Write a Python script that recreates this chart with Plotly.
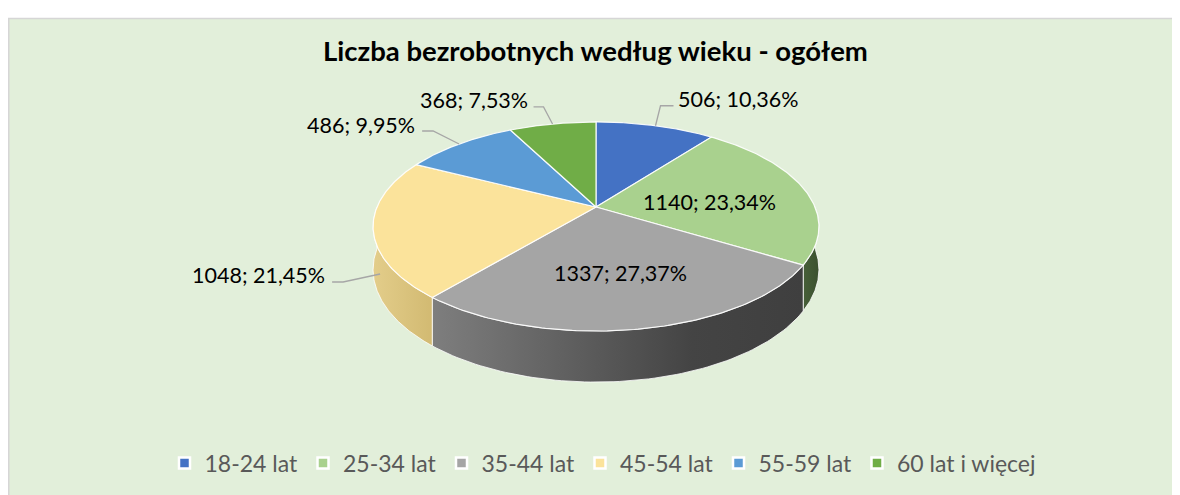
import numpy as np
import plotly.graph_objects as go

# ---------------- data ----------------
categories = ["18-24 lat", "25-34 lat", "35-44 lat", "45-54 lat", "55-59 lat", "60 lat i więcej"]
values = [506, 1140, 1337, 1048, 486, 368]
title_text = "Liczba bezrobotnych według wieku - ogółem"

# ---------------- styles ----------------
top_colors = ["#4472C4", "#A9D18E", "#A5A5A5", "#FBE39B", "#5B9BD5", "#70AD47"]
side_scales = [
    [[0, "#2F4F8F"], [1, "#2A4680"]],
    [[0, "#475F39"], [1, "#3B512F"]],
    [[0, "#7E7E7E"], [0.7, "#444444"], [1, "#3F3F3F"]],
    [[0, "#E3CD8A"], [1, "#D2BA72"]],
    [[0, "#43749F"], [1, "#3C6A92"]],
    [[0, "#52803A"], [1, "#4A7434"]],
]
# page geometry (body has an 8px margin; axes are set so data units = page pixels)
PAGE_W, PAGE_H, BODY_M = 1180, 495, 8
# projection of the tilted pie (pixel space)
CX, CY = 596.0, 207.0
A_X, G_Y, K_P, THICK = 219.0, 100.9, 0.1866, 41.5

# label styling: inside labels use radius fraction; outside labels use leader geometry
label_inside = [False, True, True, False, False, False]
inside_r = {1: (0.55, -3, 5), 2: (0.6, 0, -1)}
# anchor offset (dx,dy), elbow offset, horizontal run, text offset, xanchor
outside_style = {
    0: ((0, 0), (5, -20), 13, (2, -7), "left"),
    3: ((7, 46), (-37, 8), -11, (-5, -7), "right"),
    4: ((0, 0), (-26, -13), -11, (-5, -6), "right"),
    5: ((0, 0), (-9, -17), -10, (-4, -7), "right"),
}
FONT = "Lato"
LABEL_SIZE = 21.5
CHART_BG = "#E2EFDA"
BORDER = "#D6D6D6"


def proj(theta_deg, r=1.0, drop=0.0):
    th = np.radians(theta_deg)
    X = r * np.sin(th)
    Y = r * np.cos(th)
    den = 1 + K_P * Y
    x = CX + A_X * X / den
    y = CY - G_Y * Y / den + drop / den
    return x, y


total = sum(values)
cum = np.concatenate([[0], np.cumsum(values)]) / total * 360.0
pct_text = [f"{v / total * 100:.2f}".replace(".", ",") + "%" for v in values]

fig = go.Figure()

# side faces (front half only)
for i in range(len(values)):
    a0, a1 = max(cum[i], 90.0), min(cum[i + 1], 270.0)
    if a1 <= a0:
        continue
    th = np.linspace(a0, a1, 80)
    xt, yt = proj(th)
    xb, yb = proj(th[::-1], drop=THICK)
    xs = np.concatenate([xt, xb, xt[:1]])
    ys = np.concatenate([yt, yb, yt[:1]])
    fig.add_trace(go.Scatter(
        x=xs, y=ys, mode="lines", fill="toself",
        fillgradient=dict(type="horizontal", colorscale=side_scales[i]),
        line=dict(color="rgba(255,255,255,0.8)", width=1),
        hoverinfo="skip", showlegend=False))

# top faces
for i in range(len(values)):
    th = np.linspace(cum[i], cum[i + 1], 120)
    xa, ya = proj(th)
    xs = np.concatenate([[CX], xa, [CX]])
    ys = np.concatenate([[CY], ya, [CY]])
    fig.add_trace(go.Scatter(
        x=xs, y=ys, mode="lines", fill="toself", fillcolor=top_colors[i],
        line=dict(color="rgba(255,255,255,0.9)", width=1.2),
        hoverinfo="skip", showlegend=False))

# labels
annotations = []
for i in range(len(values)):
    mid = (cum[i] + cum[i + 1]) / 2
    text = f"{values[i]}; {pct_text[i]}"
    if label_inside[i]:
        r, dx, dy = inside_r[i]
        x, y = proj(mid, r=r)
        annotations.append(dict(x=x + dx, y=y + dy, xref="x", yref="y", text=text,
                                showarrow=False, xanchor="center", yanchor="middle",
                                font=dict(family=FONT, size=LABEL_SIZE, color="#000000")))
    else:
        (adx, ady), (ex, ey), run, (tx, ty), xanc = outside_style[i]
        x, y = proj(mid)
        ax, ay = x + adx, y + ady
        exx, eyy = ax + ex, ay + ey
        lx = exx + run
        fig.add_trace(go.Scatter(
            x=[ax, exx, lx], y=[ay, eyy, eyy], mode="lines",
            line=dict(color="#A6A6A6", width=1.3), hoverinfo="skip", showlegend=False))
        annotations.append(dict(x=lx + tx, y=eyy + ty, xref="x", yref="y", text=text,
                                showarrow=False, xanchor=xanc, yanchor="middle",
                                font=dict(family=FONT, size=LABEL_SIZE, color="#000000")))

annotations.append(dict(x=CX - 1, y=50, xref="x", yref="y", text="<b>" + title_text + "</b>",
                        showarrow=False, xanchor="center", yanchor="middle",
                        font=dict(family=FONT, size=27.5, color="#000000")))

# legend entries
for i, cat in enumerate(categories):
    fig.add_trace(go.Scatter(
        x=[None], y=[None], mode="markers", name=cat,
        marker=dict(symbol="square", size=11, color=top_colors[i],
                    line=dict(color="white", width=2.5))))

fig_w, fig_h = PAGE_W - BODY_M, PAGE_H - BODY_M
legend_cx, legend_cy = 603, 463
fig.update_layout(
    width=fig_w, height=fig_h,
    margin=dict(l=0, r=0, t=0, b=0),
    paper_bgcolor=CHART_BG, plot_bgcolor="rgba(0,0,0,0)",
    xaxis=dict(range=[BODY_M, BODY_M + fig_w], visible=False, fixedrange=True),
    yaxis=dict(range=[BODY_M + fig_h, BODY_M], visible=False, fixedrange=True),
    showlegend=True,
    legend=dict(orientation="h", x=(legend_cx - BODY_M) / fig_w, xanchor="center",
                y=1 - (legend_cy - BODY_M) / fig_h, yanchor="middle",
                font=dict(family=FONT, size=23, color="#595959"),
                bgcolor="rgba(0,0,0,0)", itemwidth=30, traceorder="normal"),
    annotations=annotations,
    shapes=[
        # white page strip above the chart box
        dict(type="rect", xref="paper", yref="y", x0=0, x1=1, y0=0, y1=18,
             fillcolor="white", line=dict(width=0), layer="below"),
        # chart box borders (left and top)
        dict(type="line", xref="x", yref="y", x0=8.5, x1=8.5, y0=18, y1=PAGE_H,
             line=dict(color=BORDER, width=2), layer="below"),
        dict(type="line", xref="x", yref="y", x0=8, x1=PAGE_W, y0=18.5, y1=18.5,
             line=dict(color=BORDER, width=1.5), layer="below"),
    ],
)

fig.write_html("out.html")
